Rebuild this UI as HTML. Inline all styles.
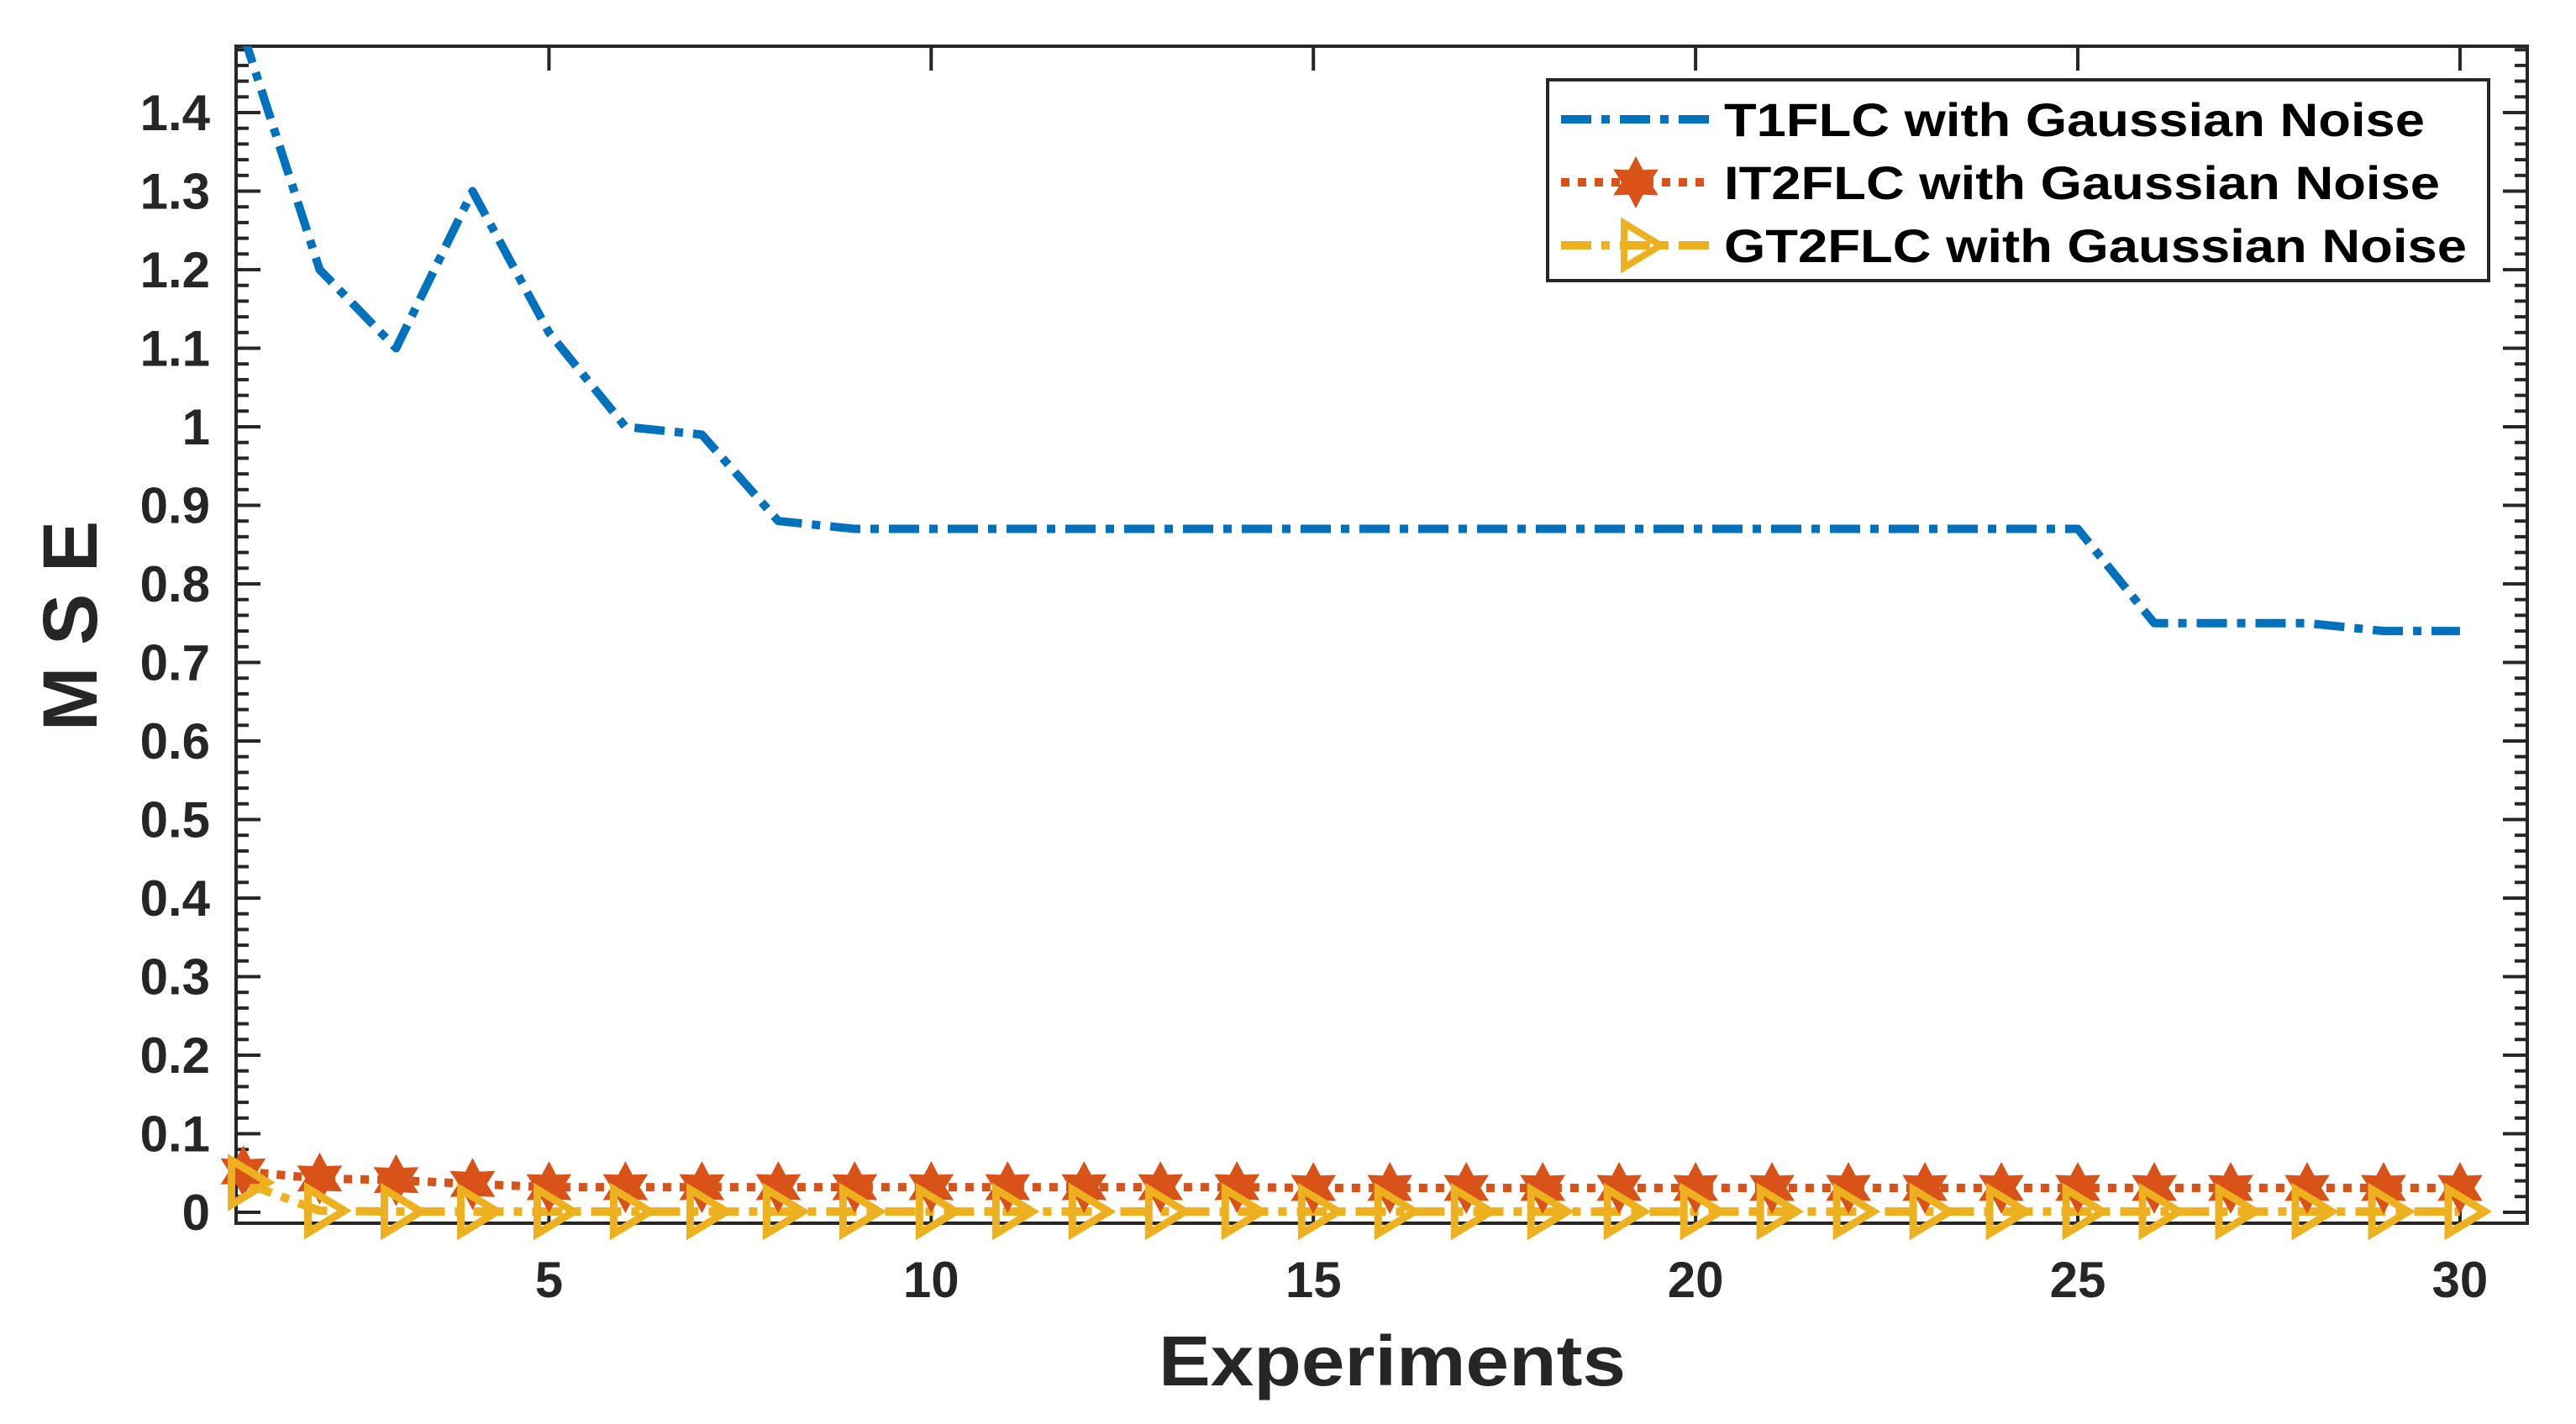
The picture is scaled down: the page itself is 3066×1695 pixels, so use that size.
<!DOCTYPE html>
<html><head><meta charset="utf-8"><style>
html,body{margin:0;padding:0;background:#fff;}
svg{display:block;}
text{font-family:"Liberation Sans",Arial,sans-serif;font-weight:bold;}
</style></head><body>
<svg id="chart" width="3066" height="1695" viewBox="0 0 3066 1695" xmlns="http://www.w3.org/2000/svg">
<rect x="0" y="0" width="3066" height="1695" fill="#fff"/>
<defs><clipPath id="plotclip"><rect x="281" y="55" width="2727" height="1401"/></clipPath></defs>
<g id="grid"></g>
<g id="series" clip-path="url(#plotclip)"></g>
<g id="markers"></g>
<text x="1379" y="1649" font-size="84" textLength="556" lengthAdjust="spacingAndGlyphs" fill="#262626">Experiments</text>
<text transform="translate(115,745) rotate(-90)" font-size="92" text-anchor="middle" fill="#262626">M S E</text>
<g>
<rect x="1842" y="95" width="1120" height="239" fill="#fff" stroke="#262626" stroke-width="4"/>
<g>
<line x1="1858" y1="142" x2="2036" y2="142" stroke="#0072BD" stroke-width="10" stroke-dasharray="36,12,10,12"/>
<text x="2052" y="162" font-size="56" textLength="834" lengthAdjust="spacingAndGlyphs" fill="#000">T1FLC with Gaussian Noise</text></g>
<g>
<line x1="1858" y1="217" x2="2036" y2="217" stroke="#D95319" stroke-width="10" stroke-dasharray="10,10"/>
<path id="legstar" d="" fill="#D95319"/>
<text x="2052" y="237" font-size="56" textLength="852" lengthAdjust="spacingAndGlyphs" fill="#000">IT2FLC with Gaussian Noise</text></g>
<g>
<line x1="1858" y1="292" x2="2036" y2="292" stroke="#EDB120" stroke-width="10" stroke-dasharray="36,12,10,12"/>
<path id="legtri" d="" fill="none" stroke="#EDB120" stroke-width="8"/>
<text x="2052" y="312" font-size="56" textLength="884" lengthAdjust="spacingAndGlyphs" fill="#000">GT2FLC with Gaussian Noise</text></g>
</g>
</svg>
<script>
const experiments = [1,2,3,4,5,6,7,8,9,10,11,12,13,14,15,16,17,18,19,20,21,22,23,24,25,26,27,28,29,30];
const t1flc = [1.5,1.2,1.1,1.3,1.12,1.0,0.99,0.88,0.87,0.87,0.87,0.87,0.87,0.87,0.87,0.87,0.87,0.87,0.87,0.87,0.87,0.87,0.87,0.87,0.87,0.75,0.75,0.75,0.74,0.74];
const it2flc = [0.052,0.043,0.041,0.036,0.032,0.032,0.032,0.032,0.032,0.032,0.032,0.032,0.032,0.032,0.031,0.031,0.031,0.031,0.031,0.031,0.031,0.031,0.031,0.031,0.031,0.031,0.031,0.031,0.031,0.031];
const gt2flc = [0.038,0.002,0.001,0.001,0.001,0.001,0.001,0.001,0.001,0.001,0.001,0.001,0.001,0.001,0.001,0.001,0.001,0.001,0.001,0.001,0.001,0.001,0.001,0.001,0.001,0.001,0.001,0.001,0.001,0.001];
const yTickLabels = ["0","0.1","0.2","0.3","0.4","0.5","0.6","0.7","0.8","0.9","1","1.1","1.2","1.3","1.4"];
const xTickLabels = ["5","10","15","20","25","30"];

const NS="http://www.w3.org/2000/svg";
const L=281,R=3008,T=55,B=1456;
const xmin=0.907,xmax=30.88,ymin=-0.0139,ymax=1.4845;
const xs=v=>L+(v-xmin)/(xmax-xmin)*(R-L);
const ys=v=>B-(v-ymin)/(ymax-ymin)*(B-T);
function mk(tag,attrs,parent){const e=document.createElementNS(NS,tag);for(const k in attrs)e.setAttribute(k,attrs[k]);parent.appendChild(e);return e;}
const g=document.getElementById('grid');
for(let i=0;i<=74;i++){const v=i*0.02;const y=ys(v);if(y<T)continue;
 const major=(i%5===0);const len=major?29:15;
 const t1=mk('line',{x1:L,y1:y,x2:L+len,y2:y,stroke:'#262626','stroke-width':4},g);
 
 
 const t2=mk('line',{x1:R,y1:y,x2:R-len,y2:y,stroke:'#262626','stroke-width':4},g);
 
 
}
yTickLabels.forEach(s=>{const v=parseFloat(s);const t=mk('text',{x:250,y:ys(v)+21,'font-size':60,'text-anchor':'end',fill:'#262626'},g);t.textContent=s;
 
 });
xTickLabels.forEach(s=>{const v=parseFloat(s);const x=xs(v);
 const a=mk('line',{x1:x,y1:B,x2:x,y2:B-29,stroke:'#262626','stroke-width':4},g);
 
 
 const b=mk('line',{x1:x,y1:T,x2:x,y2:T+29,stroke:'#262626','stroke-width':4},g);
 
 
 const t=mk('text',{x:x,y:1544,'font-size':60,'text-anchor':'middle',fill:'#262626'},g);t.textContent=s;
 
 });
const box=mk('rect',{x:L,y:T,width:R-L,height:B-T,fill:'none',stroke:'#262626','stroke-width':4},g);



const sg=document.getElementById('series');
function line(data,color,dash,name){const pts=experiments.map((x,i)=>xs(x)+','+ys(data[i])).join(' ');
 const p=mk('polyline',{points:pts,fill:'none',stroke:color,'stroke-width':10,'stroke-dasharray':dash,'stroke-linejoin':'round'},sg);
 
 }
function star(cx,cy,r){const a=[];for(let k=0;k<12;k++){const ang=-Math.PI/2+k*Math.PI/6;const rr=k%2?r*0.55:r;a.push((cx+rr*Math.cos(ang)).toFixed(1)+','+(cy+rr*Math.sin(ang)).toFixed(1));}return 'M'+a.join('L')+'Z';}
function tri(cx,cy,s){return `M${cx-s*0.45},${cy-s*0.85}L${cx+s*0.95},${cy}L${cx-s*0.45},${cy+s*0.85}Z`;}
line(t1flc,'#0072BD','36,12,10,12','line-t1flc');
line(it2flc,'#D95319','10,10','line-it2flc');
line(gt2flc,'#EDB120','36,12,10,12','line-gt2flc');
const mg=document.getElementById('markers');
experiments.forEach((x,i)=>{const m=mk('path',{d:star(xs(x),ys(it2flc[i]),31),fill:'#D95319'},mg);
 
 });
experiments.forEach((x,i)=>{const m=mk('path',{d:tri(xs(x),ys(gt2flc[i]),31),fill:'none',stroke:'#EDB120','stroke-width':9},mg);
 
 });
document.getElementById('legstar').setAttribute('d',star(1947,217,31));
document.getElementById('legtri').setAttribute('d',tri(1947,292,31));
</script>
</body></html>
